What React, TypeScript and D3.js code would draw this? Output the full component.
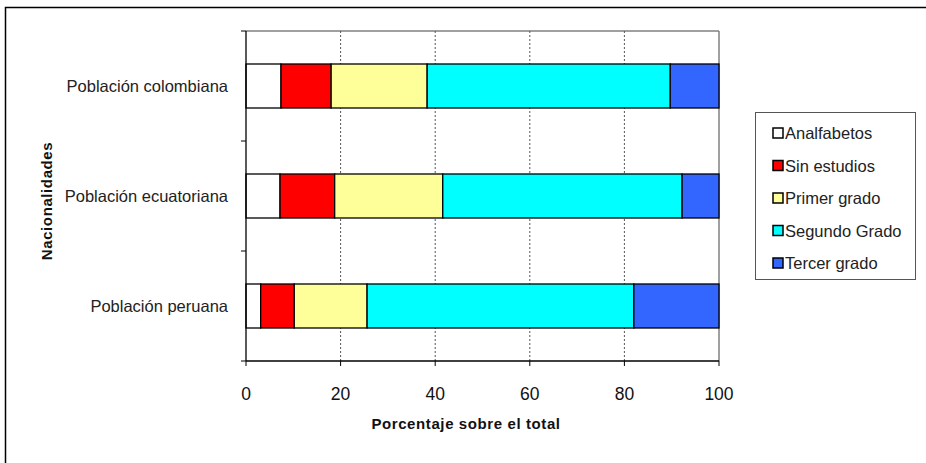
import React from "react";
import * as d3 from "d3";

const categories = ["Población colombiana", "Población ecuatoriana", "Población peruana"];
const seriesNames = ["Analfabetos", "Sin estudios", "Primer grado", "Segundo Grado", "Tercer grado"];
const seriesColors = ["#FFFFFF", "#FF0000", "#FFFF99", "#00FFFF", "#3366FF"];
const analfabetos = [7.4, 7.2, 3.1];
const sinEstudios = [10.6, 11.55, 7.1];
const primerGrado = [20.3, 22.85, 15.4];
const segundoGrado = [51.4, 50.6, 56.4];
const tercerGrado = [10.3, 7.8, 18.0];
const xTicks = [0, 20, 40, 60, 80, 100];

const W = 926, H = 463;
const M = { left: 246, right: 719, top: 31, bottom: 361 };
const FONT = "'Liberation Sans', Arial, sans-serif";

export default function App() {
  const x = d3.scaleLinear().domain([0, 100]).range([M.left, M.right]);
  const y = d3.scaleBand().domain(categories).range([M.top, M.bottom]).paddingInner(0.6).paddingOuter(0.3);
  const bandFull = (M.bottom - M.top) / categories.length;
  const rows = categories.map((c, i) => ({
    cat: c,
    Analfabetos: analfabetos[i],
    "Sin estudios": sinEstudios[i],
    "Primer grado": primerGrado[i],
    "Segundo Grado": segundoGrado[i],
    "Tercer grado": tercerGrado[i],
  }));
  const stack = d3.stack<any>().keys(seriesNames)(rows);
  const yTicks = d3.range(categories.length + 1).map((i) => M.top + i * bandFull);

  return (
    <svg width={W} height={H} style={{ position: "absolute", left: 0, top: 0, background: "#fff" }} fontFamily={FONT}>
      <rect x={0} y={0} width={W} height={H} fill="#fff" />
      <rect x={5.5} y={7.5} width={940} height={480} fill="none" stroke="#000" strokeWidth={1.5} />
      {/* plot border */}
      <line x1={M.left} x2={M.right} y1={M.top} y2={M.top} stroke="#808080" strokeWidth={1.5} />
      <line x1={M.right} x2={M.right} y1={M.top} y2={M.bottom} stroke="#808080" strokeWidth={1.5} />
      {/* gridlines */}
      {xTicks.slice(1, -1).map((t) => (
        <line key={t} x1={x(t)} x2={x(t)} y1={M.top} y2={M.bottom} stroke="#555" strokeWidth={1} strokeDasharray="2,2" />
      ))}
      {/* bars */}
      {stack.map((s, si) =>
        s.map((d: any, i: number) => (
          <rect
            key={si + "-" + i}
            x={x(d[0])}
            y={y(categories[i])!}
            width={x(d[1]) - x(d[0])}
            height={y.bandwidth()}
            fill={seriesColors[si]}
            stroke="#000"
            strokeWidth={1.3}
          />
        ))
      )}
      {/* axes */}
      <line x1={M.left} x2={M.left} y1={M.top} y2={M.bottom} stroke="#000" strokeWidth={1.3} />
      <line x1={M.left} x2={M.right} y1={M.bottom} y2={M.bottom} stroke="#000" strokeWidth={1.3} />
      {yTicks.map((t, i) => (
        <line key={i} x1={M.left - 5} x2={M.left} y1={t} y2={t} stroke="#000" strokeWidth={1} />
      ))}
      {xTicks.map((t) => (
        <g key={t}>
          <line x1={x(t)} x2={x(t)} y1={M.bottom} y2={M.bottom + 5} stroke="#000" strokeWidth={1} />
          <text x={x(t)} y={394} textAnchor="middle" dominantBaseline="central" fontSize={17.5} fill="#111">
            {t}
          </text>
        </g>
      ))}
      {categories.map((c) => (
        <text key={c} x={228} y={y(c)! + y.bandwidth() / 2} textAnchor="end" dominantBaseline="central" fontSize={16.5} fill="#222">
          {c}
        </text>
      ))}
      <text x={466} y={423} textAnchor="middle" dominantBaseline="central" fontSize={15} fontWeight="bold" letterSpacing={0.6} fill="#111">
        Porcentaje sobre el total
      </text>
      <text transform={`translate(46,201) rotate(-90)`} textAnchor="middle" dominantBaseline="central" fontSize={15} fontWeight="bold" letterSpacing={0.6} fill="#111">
        Nacionalidades
      </text>
      {/* legend */}
      <rect x={755.5} y={112.5} width={160} height={167} fill="#fff" stroke="#555" strokeWidth={1} />
      {seriesNames.map((n, i) => {
        const cy = 133 + i * 32.5;
        return (
          <g key={n}>
            <rect x={773} y={cy - 5} width={10} height={10} fill={seriesColors[i]} stroke="#000" strokeWidth={1.5} />
            <text x={785} y={cy} dominantBaseline="central" fontSize={16.5} fill="#222">
              {n}
            </text>
          </g>
        );
      })}
    </svg>
  );
}
